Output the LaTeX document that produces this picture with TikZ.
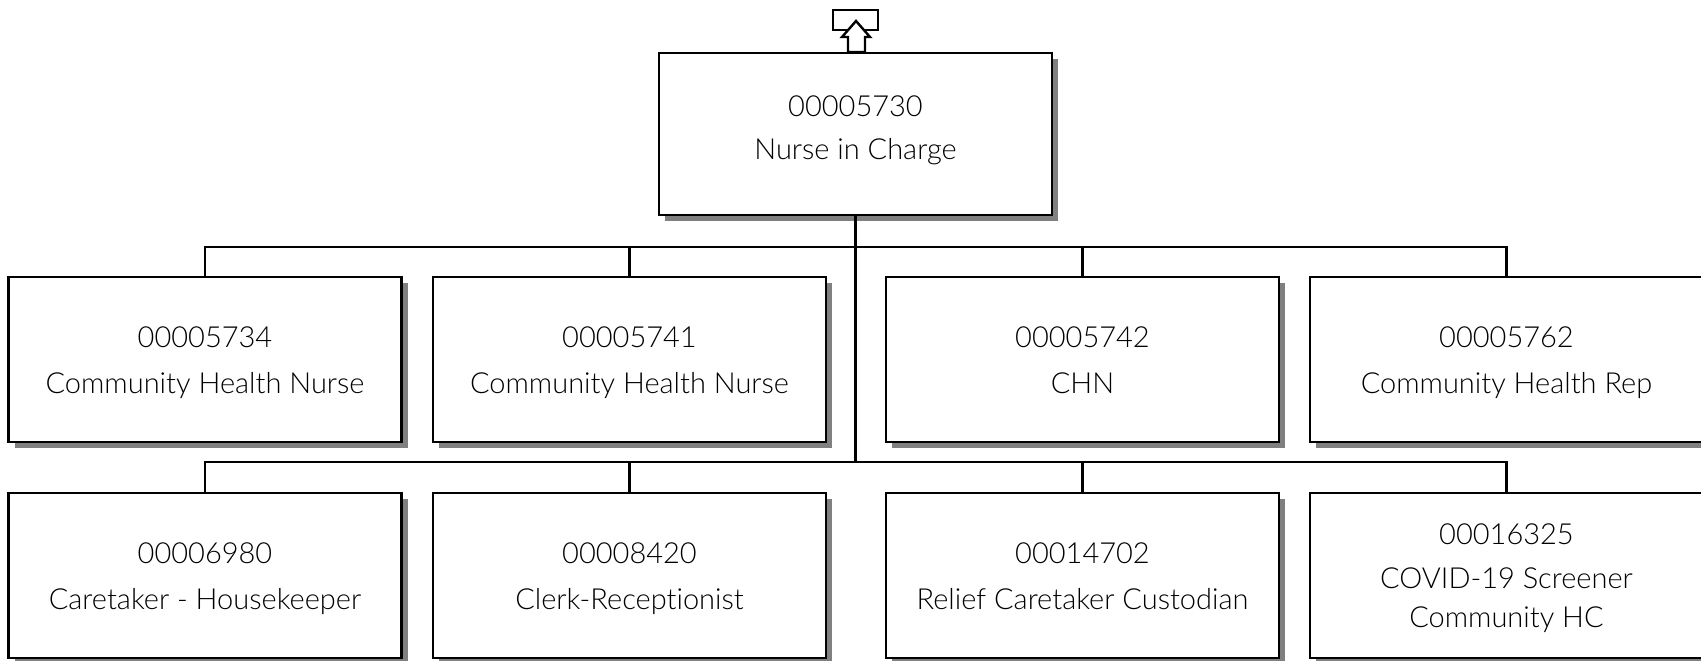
\documentclass[tikz,border=0pt]{standalone}
\usepackage{fontspec}
\setmainfont{Lato Light}[Ligatures=NoCommon]
\usetikzlibrary{shadows}
\newcommand\ftop{\rule{0pt}{32.5pt}}
\newcommand\lbot{\rule[-18pt]{0pt}{1pt}}
\begin{document}
\begin{tikzpicture}[x=1pt,y=-1pt,
  posbox/.style={draw=black, line width=2.3pt, fill=white, minimum width=393pt, minimum height=165pt, align=center, inner sep=0pt,
    font=\fontsize{29}{37}\selectfont,
    drop shadow={shadow xshift=6pt, shadow yshift=-6pt, fill=black!50, opacity=1}},
  conn/.style={line width=2.2pt, line cap=rect}]
\useasboundingbox (0,0) rectangle (1701,661);
% top box
\node[posbox, minimum height=162pt] (top) at (855.5,134) {\strut 00005730\\[6pt]\strut Nurse in Charge\lbot};
% row 1
\node[posbox] (a1) at (205,359.5) {\ftop 00005734\\[9pt]\strut Community Health Nurse};
\node[posbox] (a2) at (629.5,359.5) {\ftop 00005741\\[9pt]\strut Community Health Nurse};
\node[posbox] (a3) at (1082.5,359.5) {\ftop 00005742\\[9pt]\strut CHN};
\node[posbox] (a4) at (1506.5,359.5) {\ftop 00005762\\[9pt]\strut Community Health Rep};
% row 2
\node[posbox] (b1) at (205,575.5) {\ftop 00006980\\[9pt]\strut Caretaker - Housekeeper};
\node[posbox] (b2) at (629.5,575.5) {\ftop 00008420\\[9pt]\strut Clerk-Receptionist};
\node[posbox] (b3) at (1082.5,575.5) {\ftop 00014702\\[9pt]\strut Relief Caretaker Custodian};
\node[posbox] (b4) at (1506.5,575.5) {\ftop 00016325\\[7pt]\strut COVID-19 Screener\\[2pt]\strut Community HC};
% junctions
\coordinate (j1) at (855.5,247);
\coordinate (j2) at (855.5,462);
% connectors
\draw[conn] (top.south) -- (j2);
\draw[conn] (a1.north) |- (j1) -| (a4.north);
\draw[conn] (a2.north) -- (a2.north |- j1);
\draw[conn] (a3.north) -- (a3.north |- j1);
\draw[conn] (b1.north) |- (j2) -| (b4.north);
\draw[conn] (b2.north) -- (b2.north |- j2);
\draw[conn] (b3.north) -- (b3.north |- j2);
% up-arrow icon
\draw[line width=2.6pt] (833,10) rectangle (878,30);
\draw[line width=2.4pt, fill=white, line join=miter] (856,21) -- (870,37) -- (865,37) -- (865,52) -- (848,52) -- (848,37) -- (842,37) -- cycle;
\end{tikzpicture}
\end{document}
